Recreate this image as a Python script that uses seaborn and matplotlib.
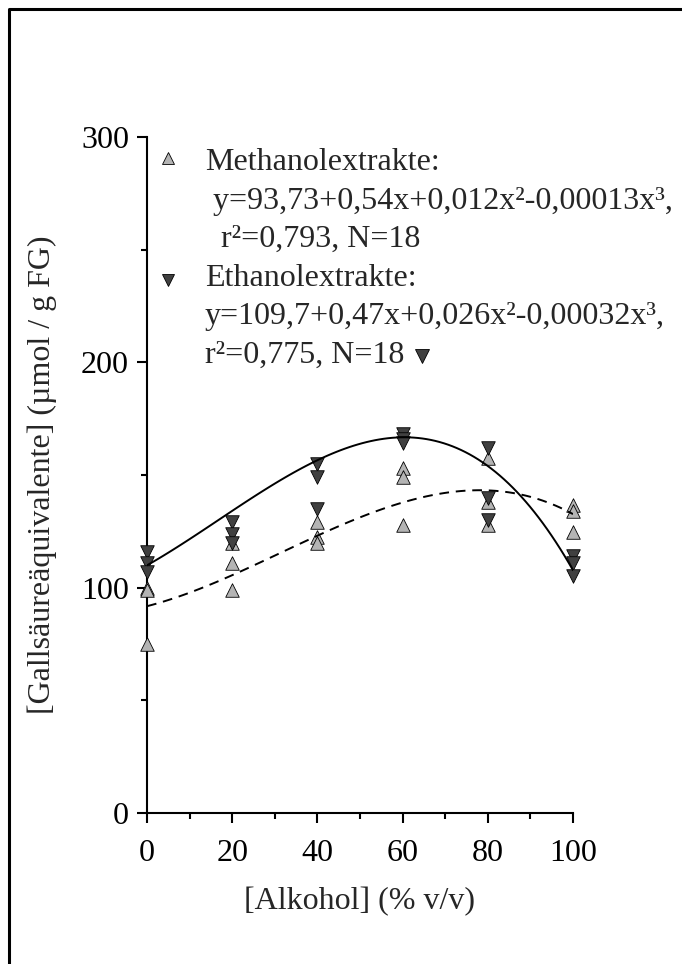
import numpy as np
import pandas as pd
import matplotlib
matplotlib.use("Agg")
import matplotlib.pyplot as plt
from matplotlib.lines import Line2D
import seaborn as sns

# ---- data ----
alkohol = [0, 0, 0, 20, 20, 20, 40, 40, 40, 60, 60, 60, 80, 80, 80, 100, 100, 100]
methanol = [100, 99, 75, 120, 111, 99, 129, 122.5, 120, 153, 149, 128,
            157.5, 138, 128, 136.5, 134, 124.5]
ethanol = [116, 111, 107, 129, 124, 120, 155, 149, 135, 168, 166, 164,
           162, 140, 130, 114, 111, 105]
# fitted curves at each concentration
curve_x = [0, 20, 40, 60, 80, 100]
curve_meth = [92, 105, 123, 139, 142, 133]
curve_eth = [111, 131, 158, 170, 150, 109]
x_ticks = [0, 20, 40, 60, 80, 100]
y_ticks = [0, 100, 200, 300]
legend_lines_m = ["Methanolextrakte:",
                  " y=93,73+0,54x+0,012x²-0,00013x³,",
                  "  r²=0,793, N=18"]
legend_lines_e = ["Ethanolextrakte:",
                  "y=109,7+0,47x+0,026x²-0,00032x³,",
                  "r²=0,775, N=18"]
x_label = "[Alkohol] (% v/v)"
y_label = "[Gallsäureäquivalente] (µmol / g FG)"

df = pd.DataFrame({"x": alkohol, "meth": methanol, "eth": ethanol})
cdf = pd.DataFrame({"x": curve_x, "meth": curve_meth, "eth": curve_eth})

sns.set_style("ticks")
plt.rcParams["font.family"] = ["Liberation Serif", "DejaVu Serif"]
FS = 23

W, H = 682, 964
fig = plt.figure(figsize=(W / 100, H / 100), dpi=100)
L, R, T, B = 147, 573, 137, 813
ax = fig.add_axes([L / W, 1 - B / H, (R - L) / W, (B - T) / H])

light = "#b4b4b4"
dark = "#404040"

sns.scatterplot(data=df, x="x", y="meth", marker="^", s=95, color=light,
                edgecolor="black", linewidth=0.6, ax=ax, zorder=3, clip_on=False)
sns.scatterplot(data=df, x="x", y="eth", marker="v", s=95, color=dark,
                edgecolor="black", linewidth=0.6, ax=ax, zorder=3, clip_on=False)

sns.regplot(data=cdf, x="x", y="meth", order=3, ci=None, scatter=False, ax=ax,
            line_kws=dict(color="black", lw=1.4, ls=(0, (5, 3.5)), zorder=4))
sns.regplot(data=cdf, x="x", y="eth", order=3, ci=None, scatter=False, ax=ax,
            line_kws=dict(color="black", lw=1.4, zorder=4))

ax.set_xlim(0, 100)
ax.set_ylim(0, 300)
ax.set_xticks(x_ticks)
ax.set_yticks(y_ticks)
ax.set_xticks([10, 30, 50, 70, 90], minor=True)
ax.set_yticks([50, 150, 250], minor=True)
ax.tick_params(axis="both", which="major", direction="out", length=7, width=1.5,
               labelsize=FS, pad=6, color="black", labelcolor="black")
ax.tick_params(axis="x", which="major", pad=12)
ax.tick_params(axis="both", which="minor", direction="out", length=4, width=1.5,
               color="black")
for s in ["top", "right"]:
    ax.spines[s].set_visible(False)
for s in ["left", "bottom"]:
    ax.spines[s].set_linewidth(1.5)
    ax.spines[s].set_color("black")

ax.set_xlabel(x_label, fontsize=FS, labelpad=13)
ax.set_ylabel(y_label, fontsize=FS)
ax.yaxis.set_label_coords((57 - L) / (R - L), 0.5)


def axc(px, py):
    return ((px - L) / (R - L), (B - py) / (B - T))


# legend (manual)
base_m = [170, 208.5, 247]
base_e = [285.5, 324, 362.5]
xs_m = [205, 205, 205]
xs_e = [205, 205, 205]
for txt, px, py in zip(legend_lines_m, xs_m, base_m):
    ax.text(*axc(px, py), txt, transform=ax.transAxes, fontsize=FS,
            ha="left", va="baseline")
for txt, px, py in zip(legend_lines_e, xs_e, base_e):
    ax.text(*axc(px, py), txt, transform=ax.transAxes, fontsize=FS,
            ha="left", va="baseline")
ax.plot(*axc(168, 158), marker="^", ms=8, color=light, mec="black", mew=0.6,
        transform=ax.transAxes, clip_on=False, ls="none")
ax.plot(*axc(168, 280), marker="v", ms=8, color=dark, mec="black", mew=0.6,
        transform=ax.transAxes, clip_on=False, ls="none")
ax.plot(*axc(422, 356), marker="v", ms=9.5, color=dark, mec="black", mew=0.6,
        transform=ax.transAxes, clip_on=False, ls="none")

# outer frame (top and left edges)
fx = 8.5 / W
fy = 1 - 8.5 / H
fig.add_artist(Line2D([fx, fx, 1.0], [0.0, fy, fy], color="black", lw=2.2,
                      transform=fig.transFigure))

fig.savefig("out.png", dpi=100, facecolor="white")
